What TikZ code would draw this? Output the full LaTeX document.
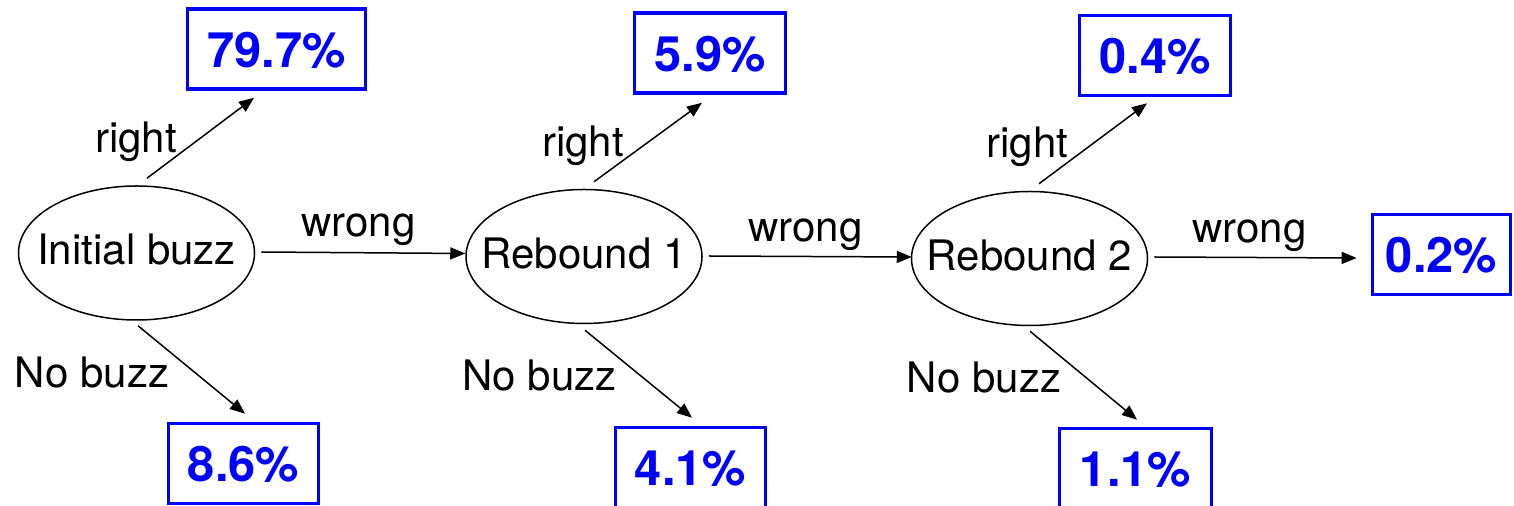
\documentclass[tikz,border=0pt]{standalone}
\usepackage{fontspec}
\setmainfont{TeX Gyre Heros}
\usetikzlibrary{shapes.geometric,arrows.meta,calc}
\definecolor{pblue}{RGB}{0,0,255}
\begin{document}
\begin{tikzpicture}[x=0.5pt,y=-0.5pt,
  txt/.style={font=\fontsize{21}{24}\selectfont,inner sep=0pt,anchor=base},
  intxt/.style={font=\fontsize{21}{24}\selectfont,inner sep=0pt,text height=15pt,text depth=3pt},
  state/.style={ellipse,draw,line width=0.75pt,inner sep=0pt,minimum width=118pt,minimum height=67pt},
  res/.style={rectangle,draw=pblue,text=pblue,line width=1.8pt,inner sep=0pt,
    font=\fontsize{24.4}{28}\selectfont\bfseries,text height=18.5pt,text depth=0pt,minimum height=40pt},
  arr/.style={line width=0.75pt,-{Triangle[length=7.5pt,width=6pt]}}]
\useasboundingbox (0,0) rectangle (1514,506);
% states
\node[state,label={[intxt]center:Initial buzz}] (ib) at (136.5,253) {};
\node[state,label={[intxt]center:Rebound 1}] (r1) at (584,256.5) {};
\node[state,label={[intxt]center:Rebound 2}] (r2) at (1029.5,258.5) {};
% results
\node[res,minimum width=89pt] (b797) at (276.5,49) {79.7\%};
\node[res,minimum width=75.5pt] (b59) at (710,53) {5.9\%};
\node[res,minimum width=75.5pt] (b04) at (1155,55.5) {0.4\%};
\node[res,minimum width=69pt] (b02) at (1441.5,254.5) {0.2\%};
\node[res,minimum width=75pt] (b86) at (243.5,463.5) {8.6\%};
\node[res,minimum width=75pt] (b41) at (690.5,467.5) {4.1\%};
\node[res,minimum width=76pt] (b11) at (1135.5,468.5) {1.1\%};
% connectors
\draw[arr] ($(ib.north)+(10.5,-7)$) -- ($(b797.south)+(-22.5,7)$);
\draw[arr] ($(ib.east)+(6,-1)$) -- ($(r1.west)+(0,-3)$);
\draw[arr] ($(ib.south)+(1.5,5)$) -- ($(b86.north)+(1.5,-8)$);
\draw[arr] ($(r1.north)+(10,-7)$) -- ($(b59.south)+(-8,8)$);
\draw[arr] ($(r1.east)+(6,-0.5)$) -- ($(r2.west)+(1,-1.5)$);
\draw[arr] ($(r1.south)+(1,6)$) -- ($(b41.north)+(1.5,-8)$);
\draw[arr] ($(r2.north)+(9.5,-7)$) -- ($(b04.south)+(-8,6)$);
\draw[arr] ($(r2.east)+(6,-1.5)$) -- ($(b02.west)+(-14,3.5)$);
\draw[arr] ($(r2.south)+(0.5,5)$) -- ($(b11.north)+(1.5,-7)$);
% labels
\node[txt] (l1) at (136,153) {right};
\node[txt] (l2) at (358.5,237) {wrong};
\node[txt] (l3) at (92,388) {No buzz};
\node[txt] (l4) at (583,157) {right};
\node[txt] (l5) at (805.5,242) {wrong};
\node[txt] (l6) at (539.5,391) {No buzz};
\node[txt] (l7) at (1027.5,158) {right};
\node[txt] (l8) at (1249.5,243) {wrong};
\node[txt] (l9) at (984,393) {No buzz};
\end{tikzpicture}
\end{document}
